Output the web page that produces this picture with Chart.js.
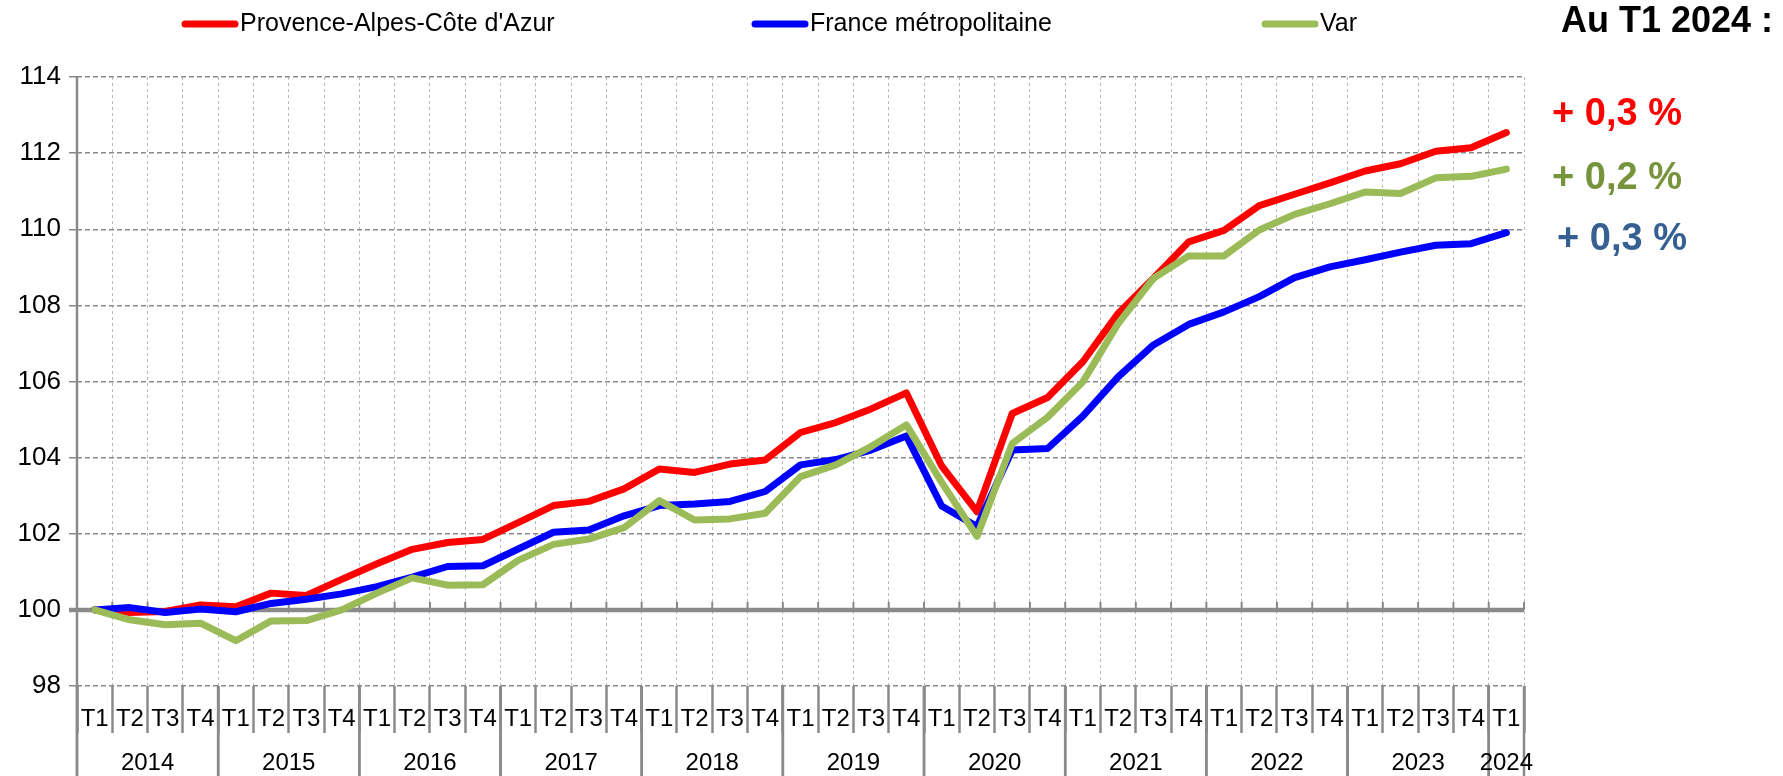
<!DOCTYPE html>
<html>
<head>
<meta charset="utf-8">
<script src="https://cdn.jsdelivr.net/npm/chart.js@4.4.1/dist/chart.umd.min.js"></script>
<style>
html, body { margin: 0; padding: 0; background: #fff; }
</style>
</head>
<body>
<canvas id="chart" width="1783" height="776"></canvas>
<script>
// categories
const years = ['2014', '2015', '2016', '2017', '2018', '2019', '2020', '2021', '2022', '2023', '2024'];
const quarterNames = ['T1', 'T2', 'T3', 'T4'];

// indices base 100 au T1 2014
const paca = [
    100, 99.93, 99.96, 100.13,
    100.08, 100.44, 100.38, 100.8,
    101.21, 101.59, 101.77, 101.85,
    102.29, 102.74, 102.85, 103.18,
    103.7, 103.61, 103.83, 103.94,
    104.66, 104.92, 105.28, 105.7,
    103.78, 102.58, 105.16, 105.58,
    106.52, 107.79, 108.71, 109.67,
    109.97, 110.62, 110.92, 111.22,
    111.53, 111.72, 112.05, 112.14,
    112.54
];
const france = [
    100, 100.06, 99.93, 100.02,
    99.95, 100.17, 100.28, 100.42,
    100.61, 100.86, 101.14, 101.16,
    101.6, 102.04, 102.1, 102.47,
    102.74, 102.78, 102.85, 103.11,
    103.81, 103.95, 104.2, 104.57,
    102.73, 102.19, 104.2, 104.24,
    105.09, 106.12, 106.96, 107.5,
    107.83, 108.23, 108.73, 109.01,
    109.2, 109.4, 109.58, 109.62,
    109.91
];
const variation_var = [
    100, 99.74, 99.61, 99.65,
    99.19, 99.71, 99.72, 100.0,
    100.44, 100.84, 100.65, 100.66,
    101.3, 101.72, 101.86, 102.16,
    102.87, 102.36, 102.39, 102.54,
    103.5, 103.81, 104.29, 104.86,
    103.35, 101.93, 104.37, 105.06,
    105.99, 107.52, 108.71, 109.3,
    109.3, 109.98, 110.39, 110.67,
    110.98, 110.94, 111.35, 111.39,
    111.58
];

const seriesNames = ["Provence-Alpes-Côte d'Azur", 'France métropolitaine', 'Var'];
const noteTitle = 'Au T1 2024 :';
const noteValues = ['+ 0,3 %', '+ 0,2 %', '+ 0,3 %'];

// T1..T4 for every year, 2024 only has T1
let labels = [];
let yearOf = [];
for (let i = 0; i < years.length; i++) {
    for (let q = 0; q < quarterNames.length; q++) {
        if (years[i] == '2024' && q > 0) break;
        labels.push(quarterNames[q]);
        yearOf.push(i);
    }
}

const FONT = "'Liberation Sans', Arial, sans-serif";
const GREY = '#8a8a8a';

const decor = {
    id: 'decor',
    beforeDatasetsDraw(chart) {
        const {ctx, chartArea, scales: {x, y}} = chart;
        const y100 = y.getPixelForValue(100);
        const step = x.getPixelForValue(1) - x.getPixelForValue(0);
        ctx.save();
        ctx.strokeStyle = GREY;
        ctx.lineWidth = 2;
        for (let i = 0; i <= labels.length; i++) {
            let px = x.getPixelForValue(0) - step / 2 + i * step;
            ctx.beginPath();
            ctx.moveTo(px, y100 - 8);
            ctx.lineTo(px, y100);
            ctx.stroke();
        }
        ctx.lineWidth = 4.5;
        ctx.beginPath();
        ctx.moveTo(chartArea.left - 8, y100);
        ctx.lineTo(chartArea.right, y100);
        ctx.stroke();
        ctx.restore();
    },
    afterDraw(chart) {
        const {ctx, chartArea, scales: {x}} = chart;
        const H = chart.height;
        const step = x.getPixelForValue(1) - x.getPixelForValue(0);
        ctx.save();

        // left axis
        ctx.strokeStyle = GREY;
        ctx.lineWidth = 2.5;
        ctx.beginPath();
        ctx.moveTo(chartArea.left, chartArea.top);
        ctx.lineTo(chartArea.left, H);
        ctx.stroke();

        // year separators and year labels
        ctx.font = '24px ' + FONT;
        ctx.fillStyle = '#000';
        ctx.textAlign = 'center';
        ctx.textBaseline = 'middle';
        for (let i = 0; i < years.length; i++) {
            let first = yearOf.indexOf(i);
            let last = yearOf.lastIndexOf(i);
            let x0 = x.getPixelForValue(first) - step / 2;
            let x1 = x.getPixelForValue(last) + step / 2;
            ctx.beginPath();
            ctx.moveTo(x0, chartArea.bottom);
            ctx.lineTo(x0, H);
            ctx.moveTo(x1, chartArea.bottom);
            ctx.lineTo(x1, H);
            ctx.stroke();
            ctx.fillText(years[i], (x0 + x1) / 2, chartArea.bottom + 77);
        }

        // legend
        const legendX = [182, 752, 1262];
        ctx.textAlign = 'left';
        ctx.font = '25px ' + FONT;
        chart.data.datasets.forEach((ds, i) => {
            ctx.strokeStyle = ds.borderColor;
            ctx.lineWidth = 7;
            ctx.lineCap = 'round';
            ctx.beginPath();
            ctx.moveTo(legendX[i] + 3, 24);
            ctx.lineTo(legendX[i] + 53, 24);
            ctx.stroke();
            ctx.fillStyle = '#000';
            ctx.fillText(ds.label, legendX[i] + 58, 24);
        });

        // annotations
        ctx.font = 'bold 36px ' + FONT;
        ctx.fillStyle = '#000';
        ctx.fillText(noteTitle, 1561, 22);
        const noteColors = ['#FF0000', '#77933C', '#376092'];
        const noteY = [115, 179, 240];
        const noteX = [1552, 1552, 1557];
        ctx.font = 'bold 38px ' + FONT;
        for (let i = 0; i < noteValues.length; i++) {
            ctx.fillStyle = noteColors[i];
            ctx.fillText(noteValues[i], noteX[i], noteY[i]);
        }
        ctx.restore();
    }
};

const data = {
    labels: labels,
    datasets: [{
            label: seriesNames[0],
            data: paca,
            borderColor: '#FF0000',
            order: 3
        },
        {
            label: seriesNames[1],
            data: france,
            borderColor: '#0000FF',
            order: 2
        },
        {
            label: seriesNames[2],
            data: variation_var,
            borderColor: '#9BBB59',
            order: 1
        }
    ]
};
data.datasets.forEach(ds => {
    ds.borderWidth = 7;
    ds.pointRadius = 0;
    ds.tension = 0;
    ds.fill = false;
    ds.borderJoinStyle = 'round';
    ds.borderCapStyle = 'round';
});

const config = {
    type: 'line',
    data: data,
    options: {
        responsive: false,
        animation: false,
        layout: { padding: { top: 77, right: 259, left: 0, bottom: 0 } },
        plugins: { legend: { display: false }, tooltip: { enabled: false } },
        scales: {
            x: {
                offset: true,
                afterFit: s => { s.height = 90; },
                grid: {
                    offset: true,
                    color: '#b8b8b8',
                    lineWidth: 1,
                    tickLength: 47,
                    tickColor: GREY,
                    tickWidth: 2.5
                },
                border: { display: false, dash: [3, 3] },
                ticks: {
                    autoSkip: false,
                    maxRotation: 0,
                    padding: -28,
                    color: '#000',
                    font: { family: FONT, size: 24 }
                }
            },
            y: {
                min: 98,
                max: 114,
                afterFit: s => { s.width = 77; },
                grid: {
                    color: GREY,
                    lineWidth: 1.5,
                    tickLength: 8,
                    tickColor: GREY
                },
                border: { display: false, dash: [5, 3] },
                ticks: {
                    stepSize: 2,
                    padding: 8,
                    color: '#000',
                    font: { family: FONT, size: 26 }
                }
            }
        }
    },
    plugins: [decor]
};

let ctx = document.getElementById('chart').getContext('2d');
new Chart(ctx, config);
</script>
</body>
</html>
